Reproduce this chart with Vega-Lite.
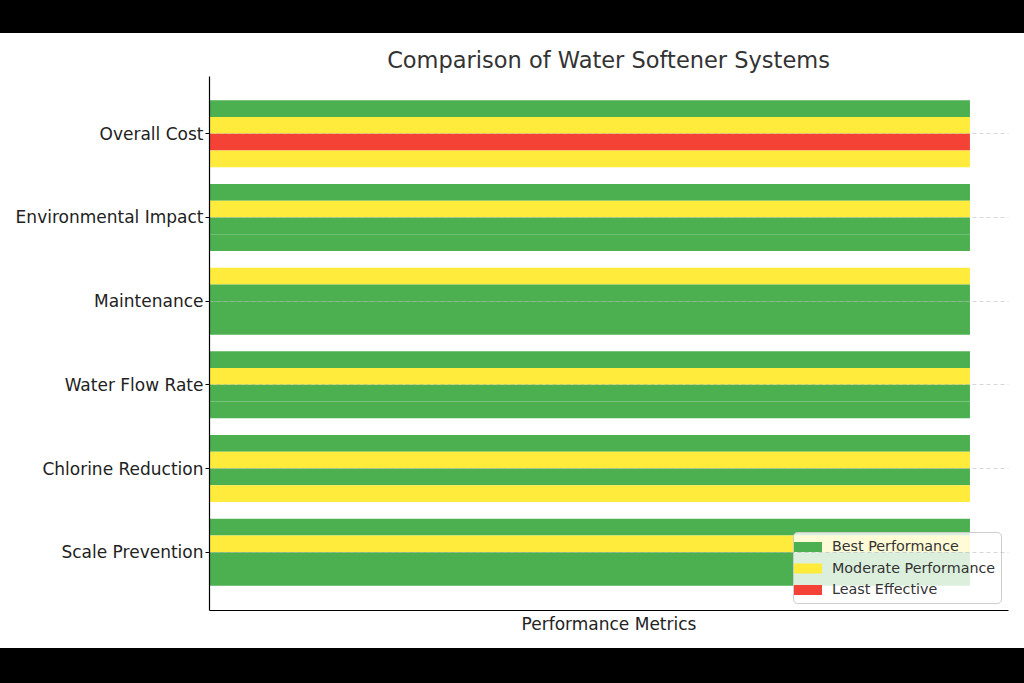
{
  "$schema": "https://vega.github.io/schema/vega-lite/v6.json",
  "background": "white",
  "padding": 0,
  "spacing": 16,
  "columns": 1,
  "align": "none",
  "resolve": {"legend": {"color": "independent"}, "scale": {"color": "independent"}},
  "config": {
    "font": "DejaVu Sans",
    "view": {"stroke": null}
  },
  "concat": [
    {
      "data": {"values": [{"k": "top"}]},
      "width": 815,
      "height": 33,
      "view": {"fill": "black", "stroke": null},
      "mark": {"type": "rect", "color": "black"},
      "encoding": {
        "y": {
          "field": "k",
          "type": "nominal",
          "scale": {"paddingInner": 0, "paddingOuter": 0},
          "axis": {"title": null, "labels": false, "ticks": false, "grid": false, "domain": true, "domainColor": "black", "domainWidth": 420, "domainCap": "butt", "translate": 0}
        }
      }
    },
    {
      "width": 799,
      "height": 534,
      "title": {
        "text": "Comparison of Water Softener Systems",
        "fontSize": 22.5,
        "fontWeight": "normal",
        "color": "#333333",
        "offset": 4
      },
      "data": {
        "values": [
          {"metric": "Overall Cost", "system": "S1", "rating": "Best Performance", "score": 1},
          {"metric": "Overall Cost", "system": "S2", "rating": "Moderate Performance", "score": 1},
          {"metric": "Overall Cost", "system": "S3", "rating": "Least Effective", "score": 1},
          {"metric": "Overall Cost", "system": "S4", "rating": "Moderate Performance", "score": 1},
          {"metric": "Environmental Impact", "system": "S1", "rating": "Best Performance", "score": 1},
          {"metric": "Environmental Impact", "system": "S2", "rating": "Moderate Performance", "score": 1},
          {"metric": "Environmental Impact", "system": "S3", "rating": "Best Performance", "score": 1},
          {"metric": "Environmental Impact", "system": "S4", "rating": "Best Performance", "score": 1},
          {"metric": "Maintenance", "system": "S1", "rating": "Moderate Performance", "score": 1},
          {"metric": "Maintenance", "system": "S2", "rating": "Best Performance", "score": 1},
          {"metric": "Maintenance", "system": "S3", "rating": "Best Performance", "score": 1},
          {"metric": "Maintenance", "system": "S4", "rating": "Best Performance", "score": 1},
          {"metric": "Water Flow Rate", "system": "S1", "rating": "Best Performance", "score": 1},
          {"metric": "Water Flow Rate", "system": "S2", "rating": "Moderate Performance", "score": 1},
          {"metric": "Water Flow Rate", "system": "S3", "rating": "Best Performance", "score": 1},
          {"metric": "Water Flow Rate", "system": "S4", "rating": "Best Performance", "score": 1},
          {"metric": "Chlorine Reduction", "system": "S1", "rating": "Best Performance", "score": 1},
          {"metric": "Chlorine Reduction", "system": "S2", "rating": "Moderate Performance", "score": 1},
          {"metric": "Chlorine Reduction", "system": "S3", "rating": "Best Performance", "score": 1},
          {"metric": "Chlorine Reduction", "system": "S4", "rating": "Moderate Performance", "score": 1},
          {"metric": "Scale Prevention", "system": "S1", "rating": "Best Performance", "score": 1},
          {"metric": "Scale Prevention", "system": "S2", "rating": "Moderate Performance", "score": 1},
          {"metric": "Scale Prevention", "system": "S3", "rating": "Best Performance", "score": 1},
          {"metric": "Scale Prevention", "system": "S4", "rating": "Best Performance", "score": 1}
        ]
      },
      "mark": {"type": "bar", "cornerRadius": 0},
      "encoding": {
        "y": {
          "field": "metric",
          "type": "nominal",
          "sort": ["Overall Cost", "Environmental Impact", "Maintenance", "Water Flow Rate", "Chlorine Reduction", "Scale Prevention"],
          "scale": {"paddingInner": 0.2, "paddingOuter": 0.29},
          "axis": {
            "title": null,
            "minExtent": 209,
            "labelLimit": 400,
            "labelFontSize": 17,
            "labelColor": "#222222",
            "labelPadding": 2,
            "labelOffset": 1,
            "tickSize": 4,
            "tickColor": "#000000",
            "domainColor": "#000000",
            "domainWidth": 1.2,
            "grid": true,
            "gridColor": "#b0b0b0",
            "gridOpacity": 0.5,
            "gridDash": [4, 3],
            "zindex": 1
          }
        },
        "yOffset": {
          "field": "system",
          "type": "nominal",
          "sort": ["S1", "S2", "S3", "S4"],
          "scale": {"paddingInner": 0, "paddingOuter": 0}
        },
        "x": {
          "field": "score",
          "type": "quantitative",
          "scale": {"domain": [0, 1.05], "nice": false},
          "axis": {
            "title": "Performance Metrics",
            "titleFontSize": 17,
            "titleFontWeight": "normal",
            "titleColor": "#222222",
            "titlePadding": 6,
            "labels": false,
            "ticks": false,
            "grid": false,
            "domainColor": "#000000",
            "domainWidth": 1.2
          }
        },
        "color": {
          "field": "rating",
          "type": "nominal",
          "scale": {
            "domain": ["Best Performance", "Moderate Performance", "Least Effective"],
            "range": ["#4CAF50", "#FFEB3B", "#F44336"]
          },
          "legend": {
            "title": null,
            "orient": "bottom-right",
            "offset": 7,
            "fillColor": "rgba(255,255,255,0.8)",
            "strokeColor": "#cccccc",
            "cornerRadius": 4,
            "padding": 5,
            "labelLimit": 400,
            "labelFontSize": 14.3,
            "labelColor": "#333333",
            "symbolType": "M-1.4,-0.5h2.8v1h-2.8z",
            "symbolSize": 400,
            "symbolStrokeWidth": 0,
            "symbolOpacity": 1,
            "rowPadding": 3.5,
            "labelOffset": 14
          }
        }
      }
    },
    {
      "data": {"values": [{"k": "bottom"}]},
      "width": 815,
      "height": 35,
      "view": {"fill": "black", "stroke": null},
      "mark": {"type": "rect", "color": "black"},
      "encoding": {
        "y": {
          "field": "k",
          "type": "nominal",
          "scale": {"paddingInner": 0, "paddingOuter": 0},
          "axis": {"title": null, "labels": false, "ticks": false, "grid": false, "domain": true, "domainColor": "black", "domainWidth": 420, "domainCap": "butt", "translate": 0}
        }
      }
    }
  ]
}
